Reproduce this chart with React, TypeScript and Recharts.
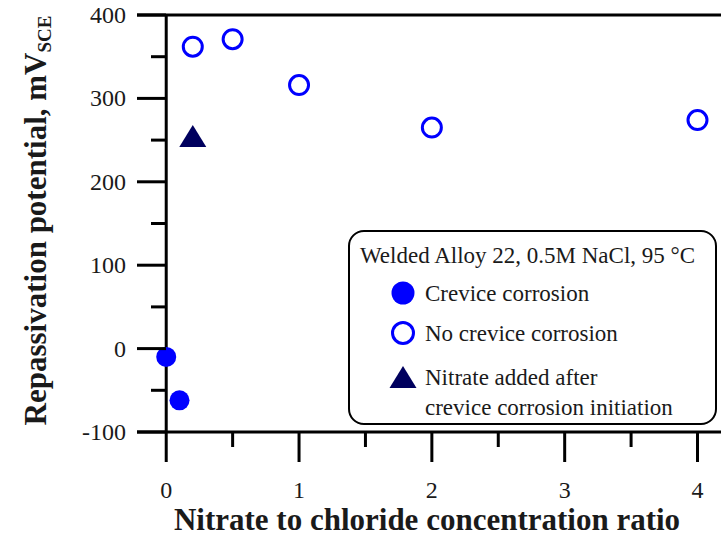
import React from "react";
import {
  ScatterChart,
  Scatter,
  XAxis,
  YAxis,
  ReferenceLine,
  Legend,
  Label,
} from "recharts";

// Repassivation potential vs nitrate/chloride ratio, welded Alloy 22
const crevice = [
  { x: 0, y: -10 },
  { x: 0.1, y: -62 },
];
const noCrevice = [
  { x: 0.2, y: 362 },
  { x: 0.5, y: 371 },
  { x: 1, y: 316 },
  { x: 2, y: 265 },
  { x: 4, y: 274 },
];
const nitrateAfter = [{ x: 0.2, y: 255 }];

const xTicks = [0, 0.5, 1, 1.5, 2, 2.5, 3, 3.5, 4];
const yTicks = [-100, -50, 0, 50, 100, 150, 200, 250, 300, 350, 400];
const xDomain = [-0.22, 4.32];
const yDomain = [-100, 400];

const seriesNames = [
  "Crevice corrosion",
  "No crevice corrosion",
  "Nitrate added after\ncrevice corrosion initiation",
];
const legendTitle = "Welded Alloy 22, 0.5M NaCl, 95 \u00B0C";

const BLUE = "#0000ff";
const NAVY = "#00005e";
const INK = "#1a1a1a";
const FONT = "'Liberation Serif', 'Times New Roman', serif";

const filledDot = (p: any) => <circle cx={p.cx} cy={p.cy} r={p.r ?? 10} fill={BLUE} />;
const openDot = (p: any) => (
  <circle cx={p.cx} cy={p.cy} r={p.r ? p.r - 1 : 9.5} fill="#fff" stroke={BLUE} strokeWidth={3} />
);
const triangle = (p: any) => (
  <polygon
    points={`${p.cx},${p.cy - 11} ${p.cx - 13.5},${p.cy + 11} ${p.cx + 13.5},${p.cy + 11}`}
    fill={NAVY}
  />
);

const markerFor = [filledDot, openDot, triangle];

function renderXTick(props: any) {
  const { x, y, payload } = props;
  const major = Number.isInteger(payload.value);
  return (
    <g>
      <line x1={x} x2={x} y1={y} y2={y + (major ? 30 : 15)} stroke="#000" strokeWidth={3} />
      {major && (
        <text x={x} y={y + 66} textAnchor="middle" fontSize={24} fill={INK}>
          {payload.value}
        </text>
      )}
    </g>
  );
}

function renderYTick(props: any) {
  const { x, y, payload } = props;
  const major = payload.value % 100 === 0;
  return (
    <g>
      <line x1={x + (major ? 0 : 14)} x2={x + 29} y1={y} y2={y} stroke="#000" strokeWidth={3} />
      {major && (
        <text x={x - 11} y={y + 8} textAnchor="end" fontSize={24} fill={INK}>
          {payload.value}
        </text>
      )}
    </g>
  );
}

function YTitle(props: any) {
  const vb = props.viewBox || { y: 15, height: 417 };
  const cy = vb.y + vb.height / 2 - 3;
  return (
    <text
      transform={`translate(46, ${cy}) rotate(-90)`}
      textAnchor="middle"
      fontSize={31}
      fontWeight="bold"
      fill={INK}
    >
      Repassivation potential, mV
      <tspan fontSize={19} dy={5}>
        SCE
      </tspan>
    </text>
  );
}

function XTitle(props: any) {
  const vb = props.viewBox || { x: 137, y: 432 };
  return (
    <text x={vb.x + 290} y={vb.y + 98} textAnchor="middle" fontSize={31} fontWeight="bold" fill={INK}>
      Nitrate to chloride concentration ratio
    </text>
  );
}

function LegendBox(props: any) {
  const payload = [...(props.payload || [])].sort(
    (a: any, b: any) => seriesNames.indexOf(a.value) - seriesNames.indexOf(b.value)
  );
  const rows = [63, 103, 147];
  return (
    <div
      style={{
        width: 369,
        height: 195,
        boxSizing: "border-box",
        border: "2.5px solid #000",
        borderRadius: 16,
        background: "#fff",
        position: "relative",
      }}
    >
      <svg width={369} height={195} style={{ position: "absolute", left: -2.5, top: -2.5 }}>
        <text x={12} y={33} fontSize={23} fill={INK} fontFamily={FONT}>
          {legendTitle}
        </text>
        {payload.map((entry: any) => {
          const i = seriesNames.indexOf(entry.value);
          const cy = rows[i];
          const lines = String(entry.value).split("\n");
          return (
            <g key={entry.value}>
              {markerFor[i]({ cx: 55, cy, r: 11.5 })}
              {lines.map((line, k) => (
                <text key={k} x={77} y={cy + 8 + k * 30} fontSize={23} fill={INK} fontFamily={FONT}>
                  {line}
                </text>
              ))}
            </g>
          );
        })}
      </svg>
    </div>
  );
}

export default function App() {
  return (
    <div
      style={{
        position: "absolute",
        left: 0,
        top: 0,
        width: 721,
        height: 537,
        overflow: "hidden",
        background: "#fff",
      }}
    >
      <ScatterChart
        width={760}
        height={537}
        margin={{ top: 15, right: 20, bottom: 0, left: 0 }}
        style={{ fontFamily: FONT }}
      >
        <XAxis
          type="number"
          dataKey="x"
          domain={xDomain}
          ticks={xTicks}
          interval={0}
          allowDataOverflow
          height={105}
          tickSize={0}
          tickMargin={0}
          tickLine={false}
          axisLine={{ stroke: "#000", strokeWidth: 3 }}
          tick={renderXTick}
        >
          <Label content={XTitle} />
        </XAxis>
        <YAxis
          type="number"
          dataKey="y"
          domain={yDomain}
          ticks={yTicks}
          interval={0}
          allowDataOverflow
          width={137}
          tickSize={0}
          tickMargin={0}
          tickLine={false}
          axisLine={false}
          tick={renderYTick}
        >
          <Label content={YTitle} />
        </YAxis>
        <ReferenceLine y={400} stroke="#000" strokeWidth={3} />
        <ReferenceLine x={0} stroke="#000" strokeWidth={3} />
        <Legend
          layout="vertical"
          align="center"
          verticalAlign="middle"
          wrapperStyle={{ left: 348, top: 230, width: 369, height: 195 }}
          content={LegendBox}
        />
        <Scatter name={seriesNames[0]} data={crevice} fill={BLUE} shape={filledDot} isAnimationActive={false} />
        <Scatter name={seriesNames[1]} data={noCrevice} fill={BLUE} shape={openDot} isAnimationActive={false} />
        <Scatter name={seriesNames[2]} data={nitrateAfter} fill={NAVY} shape={triangle} isAnimationActive={false} />
      </ScatterChart>
    </div>
  );
}
